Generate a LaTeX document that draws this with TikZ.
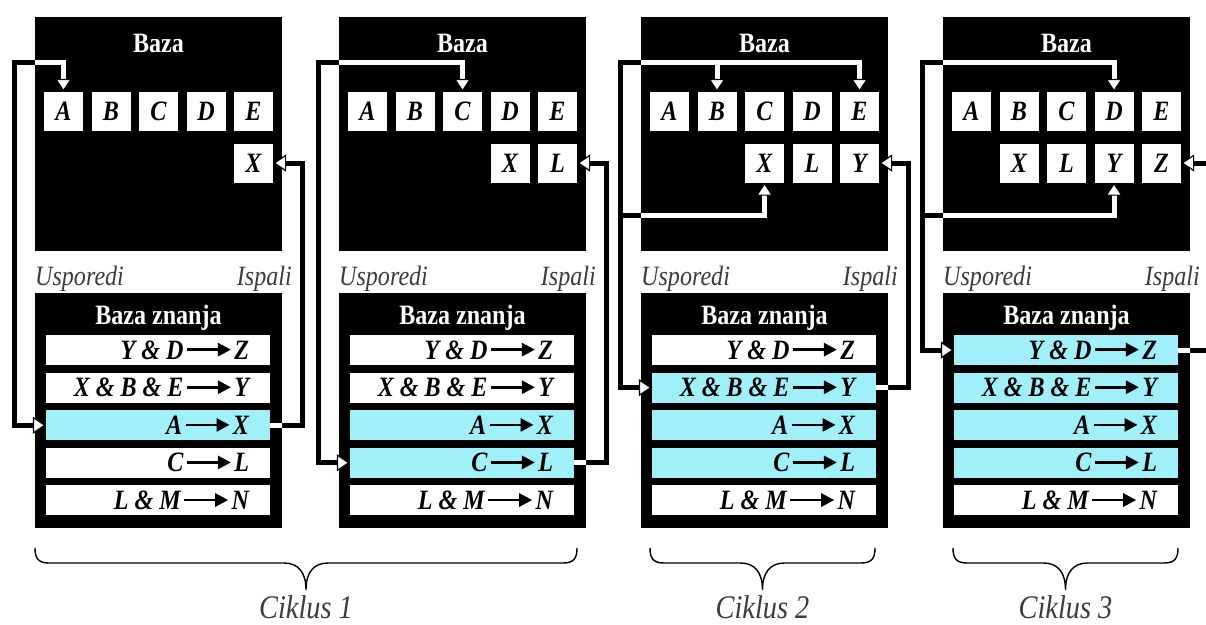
\documentclass[tikz,border=0pt]{standalone}
\usepackage{fontspec}
\setmainfont{Liberation Serif}[FakeStretch=0.86]
\usepackage{tikz}
\usetikzlibrary{calc,arrows.meta}
\definecolor{plava}{RGB}{160,240,250}
\definecolor{siva}{RGB}{60,60,60}

\newcommand{\strelica}{\kern2pt\tikz[baseline=-0.34em]\draw[line width=2.8pt, -{Triangle[length=13pt, width=13pt]}] (0,0) -- (44pt,0);\kern2pt}

\begin{document}
\begin{tikzpicture}[x=1pt, y=-1pt,
  >={Triangle[length=13pt, width=17pt, line width=1.2pt, color=black, fill=white]},
  naslov/.style={text=white, inner sep=0pt, font=\fontsize{28}{28}\selectfont\bfseries},
  slovo/.style={fill=white, minimum size=39pt, inner sep=0pt, font=\fontsize{28}{28}\selectfont\bfseries\itshape},
  pravilo/.style={minimum width=224pt, minimum height=30pt, inner sep=0pt, font=\fontsize{28}{28}\selectfont\bfseries\itshape},
  oznaka/.style={text=siva, inner sep=0pt, font=\fontsize{28}{28}\selectfont\itshape},
  veza/.style={line width=5pt, draw=black},
  zagrada/.style={line width=1.4pt},
  ciklus/.style={text=siva, inner sep=0pt, font=\fontsize{33}{33}\selectfont\itshape}]
  \useasboundingbox (0,0) rectangle (1206,624);
  \fill[white] (0,0) rectangle (1206,624);

  % Blokovi: Baza i Baza znanja za svaki korak
  \foreach \p/\x/\prvi/\zadnji/\nova in {1/35/3/3/{X}, 2/339/3/4/{X,L}, 3/641/2/4/{X,L,Y}, 4/943/1/4/{X,L,Y,Z}} {
    \fill[black] (\x,17) rectangle ++(247,234);
    \fill[black] (\x,293) rectangle ++(247,235);
    \node[naslov, anchor=base] (baza\p) at (\x+123.5,52) {Baza};
    \node[naslov, anchor=base] (znanje\p) at (\x+123.5,324) {Baza znanja};
    \foreach \s [count=\stup] in {A,B,C,D,E}
      \node[slovo] (\s\p) at ({\x+28.5+47.5*(\stup-1)},111.5) {\s};
    \foreach \n [count=\br] in \nova
      \node[slovo] (\n\p) at ({\x+28.5+47.5*(4-\p+\br)},163) {\n};
    \foreach \lijevo/\desno [count=\red] in {Y \& D/Z, X \& B \& E/Y, A/X, C/L, L \& M/N} {
      \def\boja{plava}
      \ifnum\red<\prvi\relax\def\boja{white}\fi
      \ifnum\red>\zadnji\relax\def\boja{white}\fi
      \node[pravilo, fill=\boja] (R\p-\red) at ({\x+123},{350+37.6*(\red-1)}) {\makebox[182pt][r]{\lijevo\strelica\desno}};
    }
    \node[oznaka, anchor=base west] (usp\p) at (\x,285) {Usporedi};
    \node[oznaka, anchor=base east] (isp\p) at (\x+257,285) {Ispali};
    \coordinate (gore\p) at (\x-20.5,62);
    \coordinate (dolje\p) at (\x-20.5,215);
    \coordinate (desno\p) at (\x+267,163);
  }

  % Veze: crne izvan blokova, bijele unutar njih
  \foreach \prolaz in {1,2} {
    \begin{scope}
      \ifnum\prolaz=2
        \clip foreach \x in {35,339,641,943} {(\x,17) rectangle ++(247,234) (\x,293) rectangle ++(247,235)};
        \tikzset{veza/.style={line width=5pt, draw=white}}
      \fi
      \draw[veza, <->] (A1.north) |- (gore1) |- (R1-3.west);
      \draw[veza, ->] (R1-3.east) -| (desno1) -- (X1.east);
      \draw[veza, <->] (C2.north) |- (gore2) |- (R2-4.west);
      \draw[veza, ->] (R2-4.east) -| (desno2) -- (L2.east);
      \draw[veza, <->] (E3.north) |- (gore3) |- (R3-2.west);
      \draw[veza, ->] (B3.north |- gore3) -- (B3.north);
      \draw[veza, ->] (dolje3) -| (X3.south);
      \draw[veza, ->] (R3-2.east) -| (desno3) -- (Y3.east);
      \draw[veza, <->] (D4.north) |- (gore4) |- (R4-1.west);
      \draw[veza, ->] (dolje4) -| (Y4.south);
      \draw[veza, ->] (R4-1.east) -| (desno4) -- (Z4.east);
    \end{scope}
  }

  % Zagrade ciklusa
  \foreach \pocetak/\kraj/\broj in {35/577/1, 650/875/2, 953/1178/3} {
    \pgfmathsetmacro\m{(\pocetak+\kraj)/2}
    \draw[zagrada] (\pocetak,548) .. controls (\pocetak,558) and (\pocetak+3,563) .. (\pocetak+14,563) -- (\m-22,563)
      .. controls (\m-8,563) and (\m,572) .. (\m,590) .. controls (\m,572) and (\m+8,563) .. (\m+22,563)
      -- (\kraj-14,563) .. controls (\kraj-3,563) and (\kraj,558) .. (\kraj,548);
    \node[ciklus, anchor=base] (ciklus\broj) at (\m,618) {Ciklus \broj};
  }
\end{tikzpicture}
\end{document}
